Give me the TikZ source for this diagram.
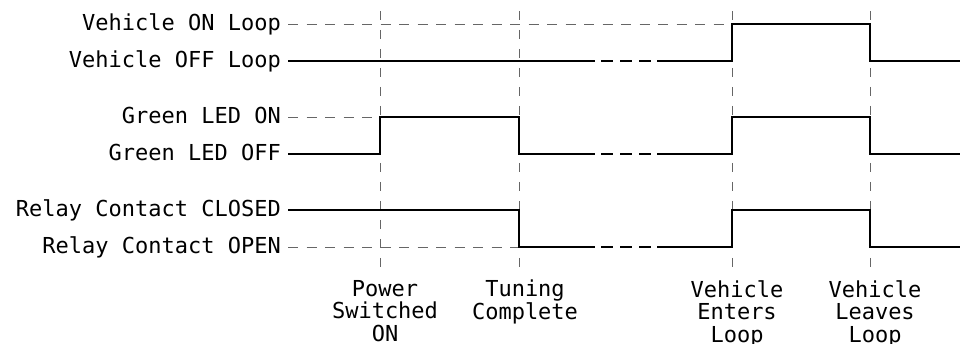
\documentclass[tikz,border=0pt]{standalone}
\usepackage{fontspec}
\setmonofont{DejaVu Sans Mono}
\begin{document}
\begin{tikzpicture}[x=1pt,y=-1pt,
  lbl/.style={font=\ttfamily\fontsize{22}{22.5}\selectfont, inner sep=0pt, anchor=base east},
  evt/.style={font=\ttfamily\fontsize{22}{22.5}\selectfont, inner sep=0pt, anchor=north, align=center},
  sig/.style={line width=2.6pt, line cap=butt, line join=miter},
  refh/.style={line width=0.9pt, black!60, dash pattern=on 10pt off 8.5pt},
  refv/.style={line width=0.9pt, black!60, dash pattern=on 9pt off 10pt},
  brk/.style={line width=2.6pt, dash pattern=on 12pt off 7pt}]
\useasboundingbox (0,0) rectangle (960,344);
% labels
\node[lbl] (von)  at (281,31)  {Vehicle ON Loop};
\node[lbl] (voff) at (281,68)  {Vehicle OFF Loop};
\node[lbl] (gon)  at (281,124) {Green LED ON};
\node[lbl] (goff) at (281,161) {Green LED OFF};
\node[lbl] (rcl)  at (281,217) {Relay Contact CLOSED};
\node[lbl] (rop)  at (281,254) {Relay Contact OPEN};
% event coordinates
\coordinate (t1top) at (380,11);  \coordinate (t1bot) at (380,277);
\coordinate (t2top) at (519,11);  \coordinate (t2bot) at (519,277);
\coordinate (t3top) at (732,11);  \coordinate (t3bot) at (732,277);
\coordinate (t4top) at (870,11);  \coordinate (t4bot) at (870,277);
% vertical dashed lines
\draw[refv] (t1top) -- (t1bot);
\draw[refv] (t2top) -- (t2bot);
\draw[refv] (t3top) -- (t3bot);
\draw[refv] (t4top) -- (t4bot);
% horizontal reference lines
\coordinate (vonE) at (732,24);
\coordinate (gonE) at (380,117);
\coordinate (ropE) at (519,247);
\draw[refh] (288,24) -- (vonE);
\draw[refh] (288,117) -- (gonE);
\draw[refh] (288,247) -- (ropE);
% Vehicle signal
\draw[sig] (288,61) -- (595,61);
\draw[brk] (601,61) -- (651,61);
\draw[sig] (657,61) -- (732,61) -- (732,24) -- (870,24) -- (870,61) -- (960,61);
% Green LED signal
\draw[sig] (288,154) -- (380,154) -- (380,117) -- (519,117) -- (519,154) -- (595,154);
\draw[brk] (601,154) -- (651,154);
\draw[sig] (657,154) -- (732,154) -- (732,117) -- (870,117) -- (870,154) -- (960,154);
% Relay signal
\draw[sig] (288,210) -- (519,210) -- (519,247) -- (595,247);
\draw[brk] (601,247) -- (651,247);
\draw[sig] (657,247) -- (732,247) -- (732,210) -- (870,210) -- (870,247) -- (960,247);
% event labels
\node[evt] (e1) at (385,280) {Power\\Switched\\ON};
\node[evt] (e2) at (525,280) {Tuning\\Complete};
\node[evt] (e3) at (737,280) {Vehicle\\Enters\\Loop};
\node[evt] (e4) at (875,280) {Vehicle\\Leaves\\Loop};
\end{tikzpicture}
\end{document}
